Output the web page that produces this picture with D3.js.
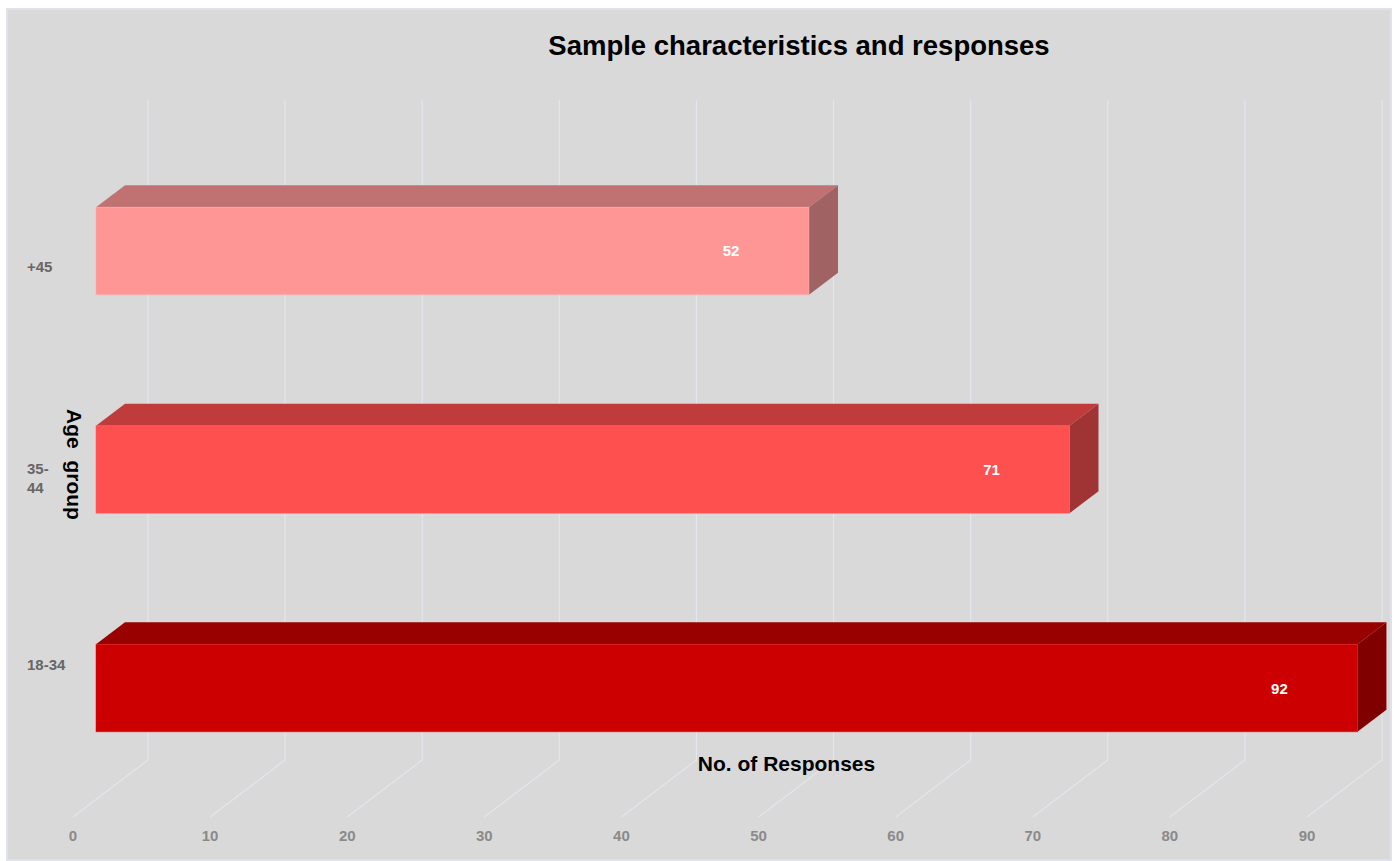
<!DOCTYPE html>
<html>
<head>
<meta charset="utf-8">
<script src="https://cdn.jsdelivr.net/npm/d3@7/dist/d3.min.js"></script>
<style>
  html, body { margin: 0; padding: 0; background: #ffffff; }
  svg { display: block; font-family: "Liberation Sans", Arial, Helvetica, sans-serif; }
</style>
</head>
<body>
<svg id="chart" width="1394" height="861"></svg>
<script>
// ---- data ----
const categories = ["+45", "35-44", "18-34"];
const categoryLabelLines = [["+45"], ["35-", "44"], ["18-34"]];
const values = [52, 71, 92];
const frontColors = ["#ff9696", "#ff5050", "#cc0000"];
const topColors = ["#c07272", "#c03c3c", "#990000"];
const sideColors = ["#a06262", "#a03434", "#800000"];
const xTicks = [0, 10, 20, 30, 40, 50, 60, 70, 80, 90];
const titleText = "Sample characteristics and responses";
const xTitleText = "No. of Responses";
const yTitleText = "Age  group";

// ---- layout ----
const svg = d3.select("#chart");
const DX = 75, DY = -57;            // full depth offset (front -> back)
const barD0 = 23 / 75, barD1 = 52 / 75; // bar depth slice

const x = d3.scaleLinear().domain([0, 90]).range([73, 1307]);
const y = d3.scaleBand().domain(categories).range([157, 817])
  .paddingInner(0.6).paddingOuter(0.31);
const labelY = d3.scalePoint().domain(categories).range([266, 664.5]);

const proj = (xv, yv, d) => [xv + DX * d, yv + DY * d];

// background
svg.append("rect").attr("x", 7).attr("y", 9).attr("width", 1384).attr("height", 851)
  .attr("fill", "#d9d9d9").attr("stroke", "#dfe2e8").attr("stroke-width", 2);

// title
svg.append("text").attr("x", 799).attr("y", 55).attr("text-anchor", "middle")
  .attr("font-size", 27.5).attr("font-weight", "bold").attr("fill", "#000")
  .text(titleText);

// gridlines (back wall + floor)
const [yTopR, yBotR] = y.range();
svg.append("g").selectAll("path").data(xTicks).join("path")
  .attr("d", t => {
    const a = proj(x(t), yTopR, 1), b = proj(x(t), yBotR, 1), c = proj(x(t), yBotR, 0);
    return `M${a[0]},${a[1]}L${b[0]},${b[1]}L${c[0]},${c[1]}`;
  })
  .attr("fill", "none").attr("stroke", "#e4e5ee").attr("stroke-width", 1.2);

// tick labels
svg.append("g").selectAll("text").data(xTicks).join("text")
  .attr("x", t => x(t)).attr("y", yBotR + 24)
  .attr("text-anchor", "middle").attr("font-size", 15).attr("font-weight", "bold")
  .attr("fill", "#8a8a8a").text(t => t);

// bars
const bars = svg.append("g");
categories.forEach((c, i) => {
  const v = values[i];
  const x0 = x(0), x1 = x(v);
  const yT = y(c), yB = y(c) + y.bandwidth();
  const poly = pts => pts.map(p => p.join(",")).join(" ");
  const g = bars.append("g");
  g.append("polygon")
    .attr("points", poly([proj(x0, yT, barD0), proj(x1, yT, barD0), proj(x1, yT, barD1), proj(x0, yT, barD1)]))
    .attr("fill", topColors[i]);
  g.append("polygon")
    .attr("points", poly([proj(x1, yT, barD0), proj(x1, yT, barD1), proj(x1, yB, barD1), proj(x1, yB, barD0)]))
    .attr("fill", sideColors[i]);
  const f0 = proj(x0, yT, barD0), f1 = proj(x1, yB, barD0);
  g.append("rect")
    .attr("x", f0[0]).attr("y", f0[1]).attr("width", f1[0] - f0[0]).attr("height", f1[1] - f0[1])
    .attr("fill", frontColors[i])
    .attr("stroke", d3.color(frontColors[i]).brighter(0.4)).attr("stroke-opacity", 0.5).attr("stroke-width", 1);
  // data label
  g.append("text")
    .attr("x", f1[0] - 78).attr("y", (f0[1] + f1[1]) / 2 + 5.5)
    .attr("text-anchor", "middle").attr("font-size", 15).attr("font-weight", "bold")
    .attr("fill", "#ffffff").text(v);
});

// category labels
const catG = svg.append("g");
categories.forEach((c, i) => {
  const lines = categoryLabelLines[i];
  const n = lines.length;
  const t = catG.append("text").attr("font-size", 15).attr("font-weight", "bold").attr("fill", "#666666");
  lines.forEach((ln, j) => {
    t.append("tspan").attr("x", 27).attr("y", labelY(c) + 5.5 + (n - 1) * 3.5 + j * 18.5).text(ln);
  });
});

// axis titles
svg.append("text").attr("x", 786.5).attr("y", 770.5).attr("text-anchor", "middle")
  .attr("font-size", 21).attr("font-weight", "bold").attr("fill", "#000").text(xTitleText);

svg.append("text").attr("transform", "translate(67,464.5) rotate(90)")
  .attr("text-anchor", "middle").attr("font-size", 21).attr("font-weight", "bold")
  .attr("fill", "#000").style("white-space", "pre").text(yTitleText);
</script>
</body>
</html>
